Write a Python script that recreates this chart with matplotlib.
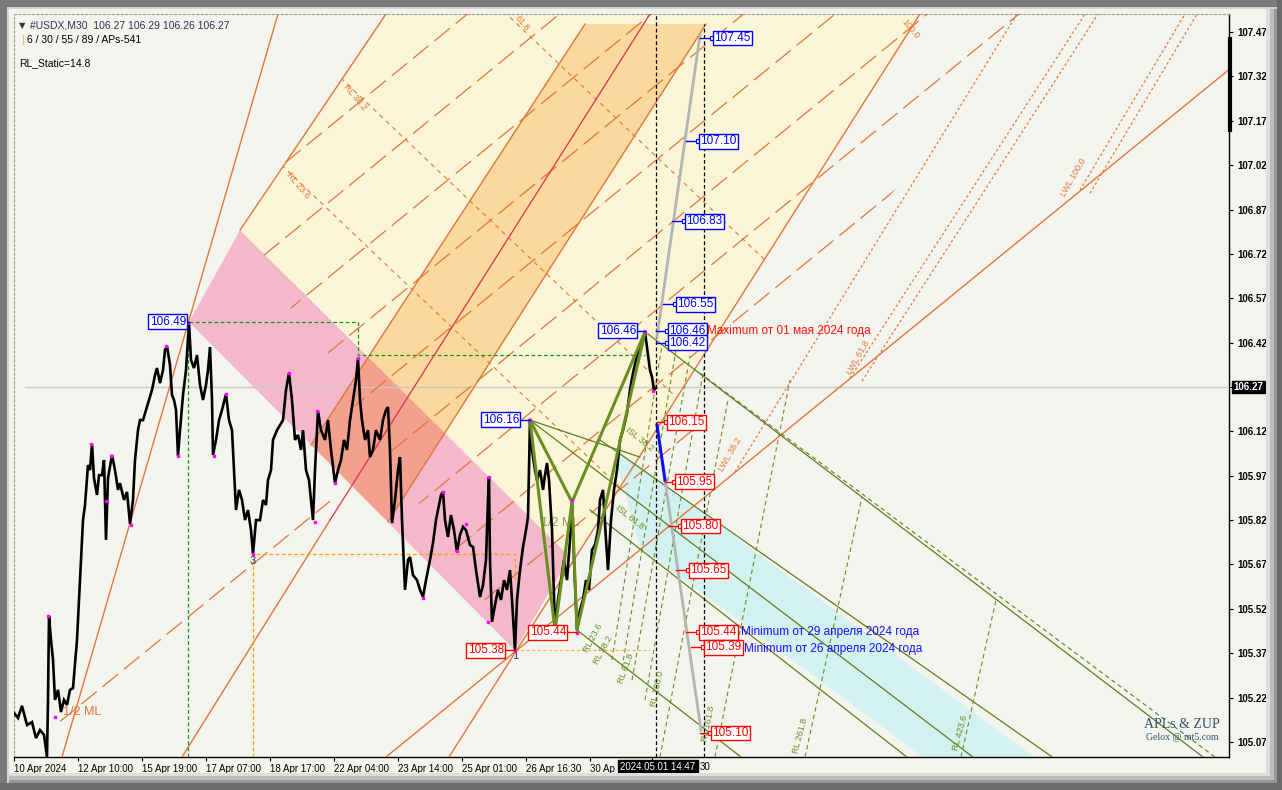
import matplotlib
matplotlib.use('Agg')
import matplotlib.pyplot as plt
from matplotlib.patches import Polygon, Rectangle
from matplotlib.transforms import blended_transform_factory

W, H = 1282, 790

# ---------------- dados (barra, preco) ----------------
bar_x = [14, 18, 22, 27, 32, 36, 40, 44, 47, 48, 49, 51, 53, 55, 58, 61, 64, 67, 70, 73,
         77, 79, 81, 83, 85, 88, 90, 92, 94, 97, 99, 102, 104, 106, 108, 112, 115, 118, 120, 124,
         127, 130, 133, 135, 138, 140, 143, 146, 149, 152, 155, 157, 160, 163, 165, 167, 170, 172, 174, 176,
         178, 180, 183, 186, 189, 191, 194, 197, 200, 203, 206, 208, 210, 212, 213, 216, 219, 222, 226, 229,
         232, 234, 236, 239, 242, 245, 248, 251, 253, 256, 260, 263, 266, 268, 271, 273, 277, 280, 283, 286,
         289, 292, 295, 298, 301, 303, 306, 309, 313, 315, 318, 321, 325, 328, 331, 335, 338, 341, 344, 347,
         350, 353, 356, 358, 360, 362, 365, 368, 370, 373, 376, 380, 383, 386, 388, 390, 392, 395, 398, 400,
         402, 405, 408, 410, 413, 417, 420, 423, 426, 430, 433, 436, 439, 441, 443, 445, 448, 451, 454, 457,
         460, 463, 466, 470, 473, 476, 480, 483, 486, 488, 489, 490, 492, 495, 498, 501, 504, 507, 510, 512,
         515, 517, 520, 523, 526, 528, 530, 532, 535, 537, 540, 543, 545, 547, 549, 552, 555, 558, 561, 564,
         567, 570, 572, 574, 577, 580, 583, 586, 589, 592, 595, 598, 600, 603, 606, 608, 611, 614, 617, 620,
         623, 627, 630, 633, 636, 639, 642, 645, 648, 650, 652, 654, 656]
price = [105.168, 105.151, 105.192, 105.127, 105.137, 105.083, 105.110, 105.094, 105.019, 105.212,
         105.496, 105.415, 105.347, 105.212, 105.246, 105.171, 105.212, 105.195, 105.246, 105.252,
         105.415, 105.550, 105.685, 105.820, 105.871, 106.006, 105.989, 106.077, 105.962, 105.905,
         105.972, 105.972, 106.023, 105.753, 105.962, 106.040, 105.989, 105.922, 105.945, 105.888,
         105.915, 105.807, 105.888, 106.023, 106.124, 106.158, 106.158, 106.192, 106.226, 106.260,
         106.310, 106.334, 106.283, 106.327, 106.395, 106.408, 106.344, 106.243, 106.226, 106.192,
         106.037, 106.124, 106.243, 106.327, 106.486, 106.361, 106.334, 106.378, 106.277, 106.226,
         106.277, 106.327, 106.405, 106.226, 106.040, 106.091, 106.158, 106.192, 106.246, 106.158,
         106.124, 105.989, 105.854, 105.922, 105.888, 105.820, 105.854, 105.786, 105.705, 105.820,
         105.820, 105.888, 105.871, 105.955, 105.989, 106.091, 106.124, 106.141, 106.158, 106.260,
         106.317, 106.226, 106.091, 106.108, 106.057, 106.124, 105.989, 105.955, 105.820, 105.989,
         106.189, 106.124, 106.091, 106.158, 106.057, 105.945, 105.989, 106.023, 106.091, 106.057,
         106.158, 106.226, 106.293, 106.368, 106.226, 106.158, 106.091, 106.124, 106.033, 106.057,
         106.124, 106.091, 106.158, 106.192, 106.202, 106.057, 105.810, 105.888, 105.989, 106.033,
         105.820, 105.584, 105.685, 105.695, 105.634, 105.617, 105.584, 105.560, 105.617, 105.685,
         105.743, 105.820, 105.871, 105.905, 105.915, 105.820, 105.763, 105.837, 105.786, 105.712,
         105.770, 105.797, 105.786, 105.736, 105.729, 105.651, 105.560, 105.600, 105.685, 105.888,
         105.966, 105.685, 105.476, 105.533, 105.584, 105.550, 105.617, 105.584, 105.651, 105.550,
         105.381, 105.550, 105.651, 105.729, 105.786, 105.830, 106.158, 106.057, 105.989, 105.955,
         105.989, 105.922, 105.972, 106.013, 105.955, 105.786, 105.448, 105.550, 105.617, 105.685,
         105.617, 105.753, 105.881, 105.685, 105.448, 105.516, 105.550, 105.617, 105.584, 105.719,
         105.736, 105.786, 105.888, 105.922, 105.753, 105.651, 105.820, 105.922, 105.989, 106.091,
         106.124, 106.182, 106.260, 106.317, 106.361, 106.395, 106.412, 106.456, 106.378, 106.327,
         106.304, 106.260, 106.266]

pivot_x = [48, 55, 91, 106, 111, 131, 166, 178, 188, 214, 226, 253, 289, 315, 317, 335, 358,
           423, 443, 457, 466, 489, 488, 515, 530, 572, 577, 645, 653]
pivot_p = [105.496, 105.154, 106.077, 105.885, 106.037, 105.803, 106.408, 106.037, 106.486, 106.037,
           106.246, 105.705, 106.317, 105.814, 106.189, 105.945, 106.368, 105.557, 105.915, 105.716,
           105.807, 105.966, 105.476, 105.378, 106.158, 105.888, 105.438, 106.456, 106.256]

# zonas (barra, preco)
yellow_zone = [(240, 106.80), (386, 107.531), (920, 107.531), (515, 105.38)]
pink_zone = [(189, 106.49), (240, 106.80), (570, 105.695), (515, 105.38)]
orange_zone = [(585, 107.497), (706, 107.497), (388, 105.814), (311, 106.074)]
cyan_zone = [(612, 106.07), (1034, 105.019), (923, 105.019), (640, 105.729)]
hatch_zone = [(240, 106.80), (386, 107.531), (1040, 107.531), (515, 105.38)]

# linhas laranja solidas
orange_lines = [
    [(62, 105.019), (278, 107.531)],
    [(240, 106.80), (386, 107.531)],
    [(311, 106.074), (585, 107.497)],
    [(388, 105.814), (706, 107.497)],
    [(182, 105.019), (330, 105.820)],
    [(449, 105.019), (920, 107.531)],
    [(386, 105.019), (1229, 107.343)],
]
median_red = [(330, 105.820), (650, 107.531)]

# linhas paralelas tracejadas (nivel na barra 515 e inclinacao)
hatch_levels = [105.634, 105.887, 106.141, 106.394, 106.648, 106.901, 107.155, 107.408,
                107.662, 107.915, 108.169, 108.422]
hatch_slope = 0.002758
half_ml_level = 106.394

# linhas RL (paralelas ao canal rosa)
rl_anchor_x = [290, 343, 510]
rl_anchor_p = [106.993, 107.308, 107.52]
rl_slope = -0.00322

# linhas LWL pontilhadas
lwl_lines = [
    [(735, 105.983), (1017, 107.531)],
    [(850, 106.300), (1085, 107.531)],
    [(862, 106.290), (1098, 107.531)],
    [(1080, 106.936), (1185, 107.531)],
    [(1090, 106.925), (1197, 107.531)],
]

# zigzag verde
zig_a = [(530, 106.158), (555, 105.448), (572, 105.881), (577, 105.448), (645, 106.456)]
zig_b = [(530, 106.158), (572, 105.881), (645, 106.456)]

olive_lines = [
    [(648, 106.449), (1229, 104.952)],
    [(530, 106.158), (1229, 104.36)],
    [(600, 106.091), (1229, 104.60)],
    [(590, 105.854), (1229, 104.17)],
    [(577, 105.448), (741, 105.019)],
    [(530, 106.158), (640, 106.033)],
]
olive_dash_extra = [(700, 106.317), (1215, 105.019)]

rl_dashed = [
    [(612, 105.347), (662, 106.412)],
    [(622, 105.320), (676, 106.395)],
    [(632, 105.279), (690, 106.375)],
    [(645, 105.212), (705, 106.354)],
    [(660, 105.019), (728, 106.226)],
    [(715, 105.019), (790, 106.293)],
    [(805, 105.019), (862, 105.898)],
    [(961, 105.019), (996, 105.550)],
]

blue_proj = [(657, 106.141), (665, 105.955)]
gray_down = [(665, 105.955), (701, 105.110)]
gray_up = [(657, 106.44), (700, 107.46)]

# etiquetas de preco: (preco, x caixa, x inicio do traco, cor)
right_labels = [(107.45, 712, 700, 'blue'), (107.10, 698, 686, 'blue'), (106.83, 684, 672, 'blue'),
                (106.55, 675, 663, 'blue'), (106.46, 667, 656, 'blue'), (106.42, 667, 656, 'blue'),
                (106.15, 666, 657, 'red'), (105.95, 674, 665, 'red'), (105.80, 680, 668, 'red'),
                (105.65, 688, 676, 'red'), (105.44, 698, 686, 'red'), (105.39, 703, 691, 'red'),
                (105.10, 710, 700, 'red')]
# (preco, x borda direita da caixa, x do pivo, cor)
left_labels = [(106.49, 187, 189, 'blue'), (106.16, 520, 530, 'blue'), (106.46, 637, 645, 'blue'),
               (105.38, 505, 515, 'red'), (105.44, 567, 577, 'red')]

y_ticks = [107.47, 107.32, 107.17, 107.02, 106.87, 106.72, 106.57, 106.42, 106.27,
           106.12, 105.97, 105.82, 105.67, 105.52, 105.37, 105.22, 105.07]
x_ticks = [14, 78, 142, 206, 270, 334, 398, 462, 526, 590, 652]
x_labels = ['10 Apr 2024', '12 Apr 10:00', '15 Apr 19:00', '17 Apr 07:00', '18 Apr 17:00',
            '22 Apr 04:00', '23 Apr 14:00', '25 Apr 01:00', '26 Apr 16:30', '30 Ap', '']
last_price = 106.27
cursor_time = '2024.05.01 14:47'

ORANGE = '#e2763a'
OLIVE = '#6b8e23'
BG = '#f4f4ee'
FONT = 'Liberation Sans'

fig = plt.figure(figsize=(W / 100, H / 100), dpi=100, facecolor=BG)
ax = fig.add_axes([14 / W, 1 - 757 / H, (1229 - 14) / W, (757 - 14) / H])
ax.set_facecolor(BG)
ax.set_xlim(14, 1229)
ax.set_ylim(105.019, 107.531)


def xy(pts):
    return [p[0] for p in pts], [p[1] for p in pts]


# zonas
yellow = Polygon(yellow_zone, closed=True, fc='#fbf5d8', ec='none', zorder=1)
ax.add_patch(yellow)
ax.add_patch(Polygon(cyan_zone, closed=True, fc='#d2f1f0', ec='none', zorder=1))
pink = Polygon(pink_zone, closed=True, fc='#f4b8cd', ec='none', zorder=2)
ax.add_patch(pink)
ax.add_patch(Polygon(orange_zone, closed=True, fc='#fad89e', ec='none', zorder=3))
salmon = Polygon(orange_zone, closed=True, fc='#f3a08e', ec='none', zorder=3.5)
ax.add_patch(salmon)
salmon.set_clip_path(pink)
hclip = Polygon(hatch_zone, closed=True, fc='none', ec='none', transform=ax.transData)

# linha horizontal do preco atual
ax.plot([25, 1229], [last_price, last_price], color='#c8c8c8', lw=1, zorder=4)

# paralelas tracejadas
for lv in hatch_levels:
    xs = [200, 1229]
    ys = [lv + hatch_slope * (x - 515) for x in xs]
    ln, = ax.plot(xs, ys, color=ORANGE, lw=0.9, dashes=(16, 6), zorder=4)
    ln.set_clip_path(hclip)
xs = [60, 330]
ax.plot(xs, [half_ml_level + hatch_slope * (x - 515) for x in xs], color=ORANGE, lw=0.9,
        dashes=(16, 6), zorder=4)

for x0, p0 in zip(rl_anchor_x, rl_anchor_p):
    xs = [x0 - 60, x0 + 600]
    ln, = ax.plot(xs, [p0 + rl_slope * (x - x0) for x in xs], color=ORANGE, lw=0.8,
                  dashes=(4, 4), zorder=4)
    ln.set_clip_path(yellow)

for seg in orange_lines:
    ax.plot(*xy(seg), color=ORANGE, lw=1, zorder=4.5)
ax.plot(*xy(median_red), color='#e0304a', lw=0.9, zorder=4.5)
for seg in lwl_lines:
    ax.plot(*xy(seg), color=ORANGE, lw=0.9, dashes=(2, 2), zorder=4.5)

# linhas verdes
for seg in olive_lines:
    ax.plot(*xy(seg), color='#5e7f1c', lw=0.9, zorder=4.6)
ax.plot(*xy(olive_dash_extra), color='#5e7f1c', lw=0.8, dashes=(4, 3), zorder=4.6)
for seg in rl_dashed:
    ax.plot(*xy(seg), color=OLIVE, lw=0.8, dashes=(4, 3), zorder=4.6)

# niveis tracejados
ax.plot([189, 358, 358, 645], [106.49, 106.49, 106.378, 106.378], color='#119911', lw=0.9,
        dashes=(3, 2), zorder=4.7)
ax.plot([188, 188], [105.019, 106.49], color='#119911', lw=0.9, dashes=(3, 2), zorder=4.7)
ax.plot([253, 253, 515, 515], [105.019, 105.705, 105.705, 105.62], color='#ffa000', lw=0.9,
        dashes=(3, 2), zorder=4.7)
ax.plot([515, 650], [105.38, 105.38], color='#ffb040', lw=0.8, dashes=(3, 2), zorder=4.7)
ax.plot([656, 656], [105.019, 107.531], color='black', lw=0.9, dashes=(3, 2), zorder=5)
ax.plot([704, 704], [105.019, 107.497], color='black', lw=0.9, dashes=(3, 2), zorder=5)

# precos
ax.plot(bar_x, price, color='black', lw=1.9, zorder=6, solid_joinstyle='miter')
ax.plot(pivot_x, pivot_p, 's', color='#ff00ff', ms=1.8, zorder=6.5, ls='none')

ax.plot(*xy(zig_a), color=OLIVE, lw=2.2, zorder=6.2)
ax.plot(*xy(zig_b), color=OLIVE, lw=2.2, zorder=6.2)

ax.plot(*xy(gray_up), color='#b4b4b4', lw=2, zorder=6.3)
ax.plot(*xy(gray_down), color='#b4b4b4', lw=2, zorder=6.3)
ax.plot(*xy(blue_proj), color='#1010ee', lw=2.2, zorder=6.4)

# etiquetas
for p, xb, xt, c in right_labels:
    col = '#0000ff' if c == 'blue' else '#ff0000'
    ax.plot([xt, xb], [p, p], color=col, lw=1, zorder=7)
    ax.plot([xb], [p], 's', ms=3, mfc='white', mec=col, mew=0.8, zorder=7)
    ax.text(xb + 2, p, f'{p:.2f}', color=col, fontsize=8.5, family=FONT, va='center', ha='left',
            zorder=8, bbox=dict(boxstyle='square,pad=0.12', fc='white', ec=col, lw=1))
for p, xr, xp, c in left_labels:
    col = '#0000ff' if c == 'blue' else '#ff0000'
    ax.plot([xr, xp], [p, p], color=col, lw=1, zorder=7)
    ax.text(xr - 1, p, f'{p:.2f}', color=col, fontsize=8.5, family=FONT, va='center', ha='right',
            zorder=8, bbox=dict(boxstyle='square,pad=0.12', fc='white', ec=col, lw=1))

ax.text(707, 106.46, 'Maximum от 01 мая 2024 года', color='#ff1010', fontsize=8.5, family=FONT,
        va='center', ha='left', zorder=8)
ax.text(741, 105.44, 'Minimum от 29 апреля 2024 года', color='#1010ff', fontsize=8.5, family=FONT,
        va='center', ha='left', zorder=8)
ax.text(744, 105.385, 'Minimum от 26 апреля 2024 года', color='#1010ff', fontsize=8.5, family=FONT,
        va='center', ha='left', zorder=8)

# textos das ferramentas
lab = dict(family=FONT, zorder=5.5, ha='center', va='center')
ax.text(82, 105.17, '1/2 ML', color=ORANGE, fontsize=9, **lab)
ax.text(560, 105.81, '1/2 ML', color='#8a9a6a', fontsize=9, **lab)
ax.text(355, 107.25, 'RL 38.2', color=ORANGE, fontsize=6.5, rotation=-50, **lab)
ax.text(298, 106.95, 'RL 23.6', color=ORANGE, fontsize=6.5, rotation=-50, **lab)
ax.text(522, 107.50, '61.8', color=ORANGE, fontsize=6.5, rotation=-50, **lab)
ax.text(910, 107.48, '100.0', color=ORANGE, fontsize=6.5, rotation=-50, **lab)
ax.text(1073, 106.98, 'LWL 100.0', color=ORANGE, fontsize=6.5, rotation=60, **lab)
ax.text(858, 106.37, 'LWL 61.8', color=ORANGE, fontsize=6.5, rotation=60, **lab)
ax.text(730, 106.04, 'LWL 38.2', color=ORANGE, fontsize=6.5, rotation=60, **lab)
ax.text(640, 106.095, 'ISL 38.2', color=OLIVE, fontsize=6.5, rotation=-38, **lab)
ax.text(630, 105.83, 'ISL 61.8', color=OLIVE, fontsize=6.5, rotation=-38, **lab)
for xx, pp, tt, rr in [(593, 105.42, 'RL 23.6', 62), (603, 105.38, 'RL 38.2', 62),
                       (626, 105.32, 'RL 61.8', 70), (657, 105.25, 'RL 100.0', 78),
                       (708, 105.13, 'RL 161.8', 78), (800, 105.09, 'RL 261.8', 75),
                       (960, 105.10, 'RL 423.6', 75)]:
    ax.text(xx, pp, tt, color=OLIVE, fontsize=6.5, rotation=rr, **lab)
ax.text(253, 105.68, '3', color='#333366', fontsize=8, **lab)
ax.text(515, 105.36, '1', color='#333366', fontsize=8, **lab)
ax.text(1182, 105.13, 'APLs & ZUP', color='#2f4f6f', fontsize=10, family='Liberation Serif',
        ha='center', va='center', zorder=8)
ax.text(1182, 105.085, 'Gelox @ mt5.com', color='#2f4f6f', fontsize=7, family='Liberation Serif',
        ha='center', va='center', zorder=8)

# cabecalho
ax.text(0.004, 0.99, '▼', transform=ax.transAxes, fontsize=6, color='#333333', va='top', ha='left')
ax.text(0.013, 0.991, '#USDX,M30  106.27 106.29 106.26 106.27', transform=ax.transAxes, fontsize=7.5,
        family=FONT, color='#333355', va='top', ha='left')
ax.text(0.006, 0.972, '|', transform=ax.transAxes, fontsize=7.5, family=FONT, color='#f0b040',
        va='top', ha='left')
ax.text(0.011, 0.972, '6 / 30 / 55 / 89 / APs-541', transform=ax.transAxes, fontsize=7.5,
        family=FONT, color='black', va='top', ha='left')
ax.text(0.004, 0.940, 'RL_Static=14.8', transform=ax.transAxes, fontsize=7.5, family=FONT,
        color='black', va='top', ha='left')

# eixos estilo MT4
ax.yaxis.tick_right()
ax.set_yticks(y_ticks)
ax.set_yticklabels(['' if v == last_price else f'{v:.2f}' for v in y_ticks], fontsize=7,
                   family=FONT, fontweight='bold')
ax.set_xticks(x_ticks)
ax.set_xticklabels(x_labels, fontsize=7, family=FONT, ha='left')
ax.tick_params(axis='x', length=3, pad=2, colors='black')
ax.tick_params(axis='y', length=3, pad=3, colors='black')
for s in ['top', 'left']:
    ax.spines[s].set_color('#a0a0a0')
    ax.spines[s].set_linestyle((0, (2, 2)))
    ax.spines[s].set_linewidth(0.8)
for s in ['bottom', 'right']:
    ax.spines[s].set_color('black')
    ax.spines[s].set_linewidth(1)

ax.plot([1229.5, 1229.5], [107.138, 107.446], color='black', lw=3, clip_on=False, zorder=9)
btr = blended_transform_factory(ax.transAxes, ax.transData)
ax.text(1.004, last_price, f'{last_price:.2f}', transform=btr, fontsize=7, family=FONT,
        fontweight='bold', color='white', va='center', ha='left', zorder=10, clip_on=False,
        bbox=dict(boxstyle='square,pad=0.15', fc='black', ec='black'))
btx = blended_transform_factory(ax.transData, ax.transAxes)
ax.text(620, -0.0135, cursor_time, transform=btx, fontsize=7, family=FONT,
        color='white', va='center', ha='left', zorder=10, clip_on=False,
        bbox=dict(boxstyle='square,pad=0.25', fc='black', ec='black'))
ax.text(700, -0.0135, '30', transform=btx, fontsize=7, family=FONT, color='black',
        va='center', ha='left', zorder=10, clip_on=False)


# moldura da janela
def frame_rect(x0, y0, x1, y1, color):
    fig.add_artist(Rectangle((x0 / W, 1 - y1 / H), (x1 - x0) / W, (y1 - y0) / H,
                             transform=fig.transFigure, fc=color, ec='none', zorder=20))


frame_rect(0, 0, W, 7, '#7a7a7a')
frame_rect(0, 7, W, 9, '#d4d4d4')
frame_rect(0, 0, 7, H, '#7a7a7a')
frame_rect(7, 9, 9, H, '#d4d4d4')
frame_rect(1266, 9, 1270, H, '#dedede')
frame_rect(1270, 9, 1274, H, '#bcbcbc')
frame_rect(1274, 9, 1277, H, '#989898')
frame_rect(1277, 0, W, H, '#6a6a6a')
frame_rect(9, 773, 1270, 776, '#dedede')
frame_rect(9, 776, 1274, 780, '#bcbcbc')
frame_rect(9, 780, 1277, 783, '#989898')
frame_rect(0, 783, W, H, '#6a6a6a')

fig.savefig('out.png', dpi=100, facecolor=BG)
